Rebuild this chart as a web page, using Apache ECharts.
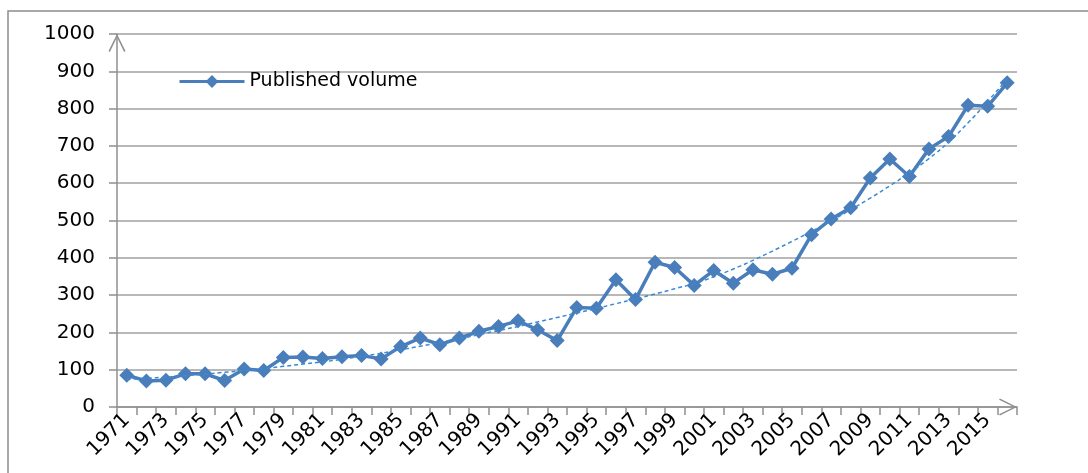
<!DOCTYPE html>
<html>
<head>
<meta charset="utf-8">
<script src="https://cdn.jsdelivr.net/npm/echarts@6/dist/echarts.min.js"></script>
<style>
html,body{margin:0;padding:0;background:#fff;}
#chart{width:1088px;height:473px;}
</style>
</head>
<body>
<div id="chart"></div>
<script>
const years = ['1971','1972','1973','1974','1975','1976','1977','1978','1979','1980',
  '1981','1982','1983','1984','1985','1986','1987','1988','1989','1990',
  '1991','1992','1993','1994','1995','1996','1997','1998','1999','2000',
  '2001','2002','2003','2004','2005','2006','2007','2008','2009','2010',
  '2011','2012','2013','2014','2015','2016'];
const publishedVolume = [85,70,72,89,89,71,102,98,133,134,
  130,135,138,129,162,185,167,185,203,216,
  231,207,178,267,265,341,288,388,374,326,
  366,332,368,356,372,462,504,534,614,665,
  618,692,725,809,806,869];
const trendVolume = [74,77,80,84,88,93,98,103,109,115,
  121,128,136,144,153,163,173,183,194,205,
  216,228,240,252,264,277,290,303,317,331,
  349,370,393,418,444,471,499,529,560,593,
  628,666,710,762,819,880];
const yTicks = {min:0, max:1000, interval:100};

const chevron = 'path://M0,10 L5,0 L10,10 L9.2,10.5 L5,1.8 L0.8,10.5 Z';
const font = 'DejaVu Sans';
const chart = echarts.init(document.getElementById('chart'));
chart.setOption({
  animation:false,
  backgroundColor:'#fff',
  graphic:[{type:'rect', shape:{x:8,y:11,width:1200,height:600}, style:{fill:'none', stroke:'#8c8c8c', lineWidth:1.5}, silent:true}],
  grid:{left:117,right:71,top:34,bottom:66},
  legend:{
    data:[{name:'Published volume'}],
    left:178, top:72, padding:0, itemWidth:65, itemHeight:16, itemGap:5,
    lineStyle:{width:3},
    textStyle:{fontFamily:font, fontSize:19, color:'#000'}
  },
  xAxis:{
    type:'category', data:years, boundaryGap:true,
    axisLine:{lineStyle:{color:'#8f8f8f', width:1.5}, symbol:['none', chevron], symbolSize:[17,18], symbolOffset:[0,-9]},
    axisTick:{show:true, interval:0, length:8, lineStyle:{color:'#8f8f8f', width:1.5}},
    axisLabel:{interval:1, rotate:45, margin:10, fontFamily:font, fontSize:20, color:'#000'},
    splitLine:{show:false}
  },
  yAxis:{
    type:'value', min:yTicks.min, max:yTicks.max, interval:yTicks.interval,
    axisLine:{show:true, lineStyle:{color:'#8f8f8f', width:1.5}, symbol:['none', chevron], symbolSize:[17,18], symbolOffset:[0,-9]},
    axisTick:{show:true, length:8, lineStyle:{color:'#8f8f8f', width:1.5}},
    axisLabel:{margin:22, fontFamily:font, fontSize:20, color:'#000', formatter:function(v){return String(v);}},
    splitLine:{show:true, lineStyle:{color:'#a0a0a0', width:1.5}}
  },
  series:[
    {
      name:'Trend', type:'line', data:trendVolume, smooth:true, symbol:'none',
      lineStyle:{color:'#3a8ad6', width:1.5, type:[4,3]}, z:3
    },
    {
      name:'Published volume', type:'line', data:publishedVolume,
      symbol:'diamond', symbolSize:15, showSymbol:true, showAllSymbol:true,
      itemStyle:{color:'#4a7ebb'},
      lineStyle:{color:'#4a7ebb', width:3.5}, z:2
    }
  ]
});
</script>
</body>
</html>
